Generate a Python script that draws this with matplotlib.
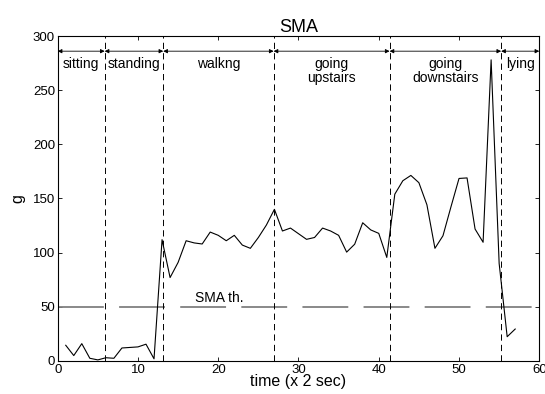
import matplotlib
matplotlib.use('Agg')
import matplotlib.pyplot as plt
import numpy as np

plt.rcParams['font.family'] = ['Liberation Sans', 'DejaVu Sans']
plt.rcParams['lines.scale_dashes'] = False

# SMA samples, one every 2 s
t = np.arange(1, 58)
sma = [14.5, 5, 16, 2.5, 1, 3, 2.5, 12, 12.5, 13, 15.5, 2,
       112, 77, 91, 111, 109, 108, 119, 116, 111, 116, 107, 104, 114, 125.5, 140,
       120, 122.7, 117.5, 112.3, 114, 122.7, 120, 116, 100.5, 107.8, 127.6, 121, 117.8, 95.6,
       154, 166.4, 171.3, 164.6, 144.2, 104, 115.6, 142.4, 168.5, 169, 121.8, 109.6,
       278, 90, 22.4, 29.5]

sma_th = 50
bounds = [0, 5.85, 13.15, 26.9, 41.35, 55.25, 60]
activities = ['sitting', 'standing', 'walkng', 'going\nupstairs', 'going\ndownstairs', 'lying']

fig = plt.figure(figsize=(5.45, 3.94), dpi=100)
ax = fig.add_axes([0.1059, 0.0838, 0.8836, 0.8248])

ax.plot([0, 60], [sma_th, sma_th], color='#808080', lw=1.3, dashes=(33, 11))
ax.text(17.1, 52, 'SMA th.', fontsize=10, ha='left', va='bottom')

ax.plot(t, sma, color='black', lw=0.8)

for b in bounds[1:-1]:
    ax.axvline(b, color='black', lw=0.7, dashes=(4.5, 3))

for i, name in enumerate(activities):
    ax.annotate('', xy=(bounds[i], 286), xytext=(bounds[i+1], 286),
                arrowprops=dict(arrowstyle='<|-|>', color='black', lw=0.6,
                                mutation_scale=6, shrinkA=0, shrinkB=0))
    ax.text((bounds[i] + bounds[i+1]) / 2, 280.5, name, fontsize=10,
            ha='center', va='top', linespacing=0.95)

ax.set_xlim(0, 60)
ax.set_ylim(0, 300)
ax.set_xticks(np.arange(0, 61, 10))
ax.set_yticks(np.arange(0, 301, 50))
ax.tick_params(direction='in', top=True, right=True, labelsize=9.5, length=3, width=0.6, pad=2)
for s in ax.spines.values():
    s.set_linewidth(0.8)

ax.set_title('SMA', fontsize=13, pad=3)
ax.set_xlabel('time (x 2 sec)', fontsize=11.5, labelpad=-1)
ax.set_ylabel('g', fontsize=11.5, labelpad=5)

plt.savefig('out.png', dpi=100)
